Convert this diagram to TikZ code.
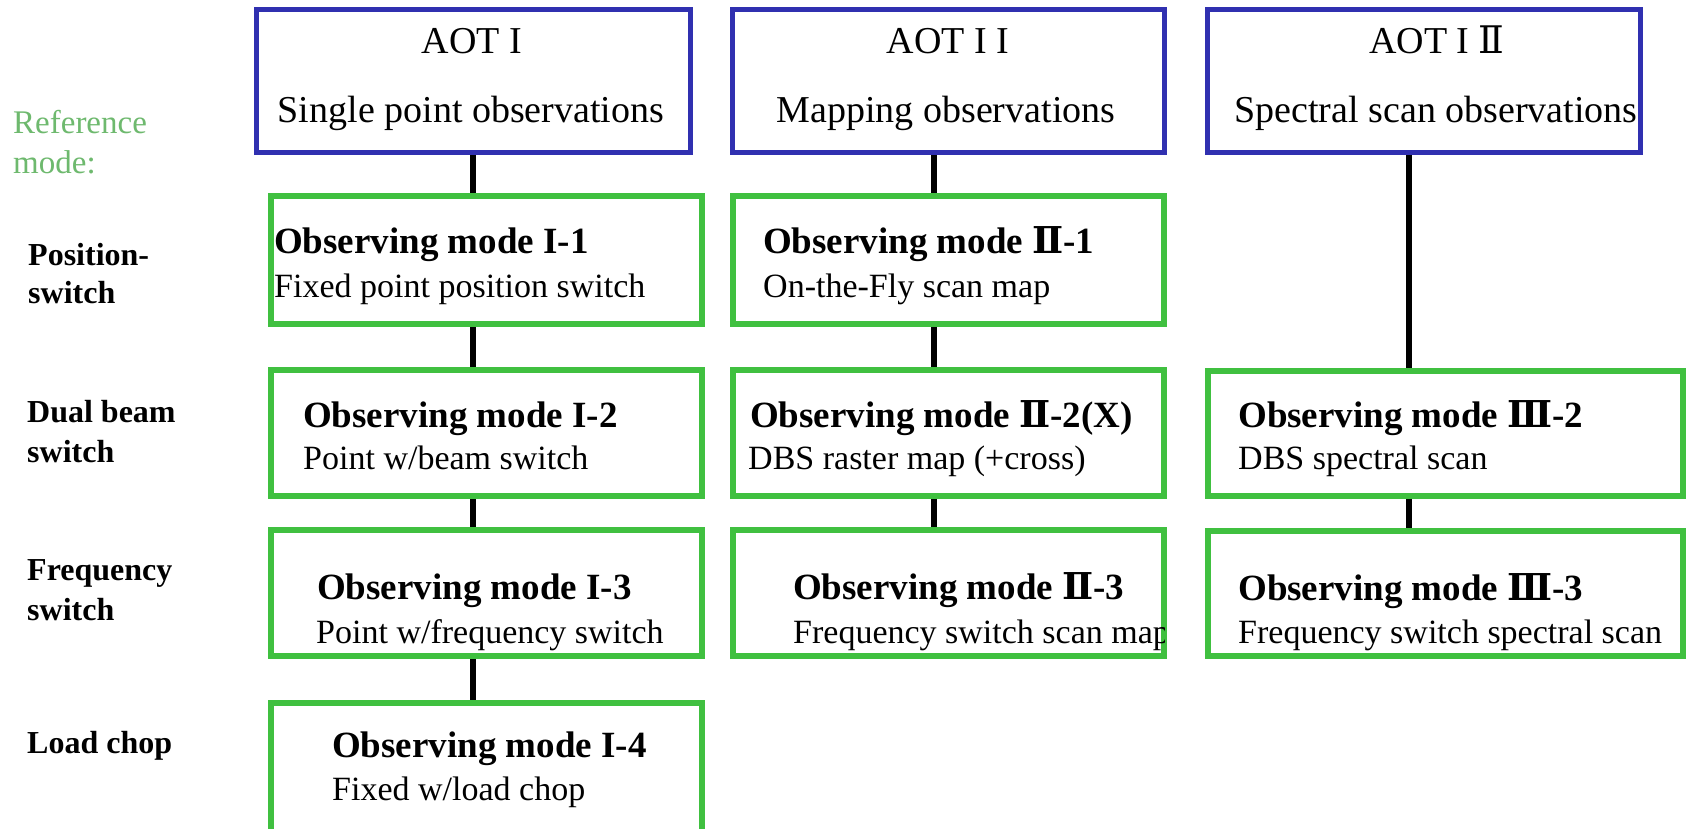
\documentclass[tikz,border=0pt]{standalone}
\usepackage{fontspec}
\setmainfont{Liberation Serif}
\newfontfamily\rn{DejaVu Serif}
\definecolor{cBlue}{RGB}{48,48,176}
\definecolor{cGreen}{RGB}{64,192,64}
\definecolor{cRef}{RGB}{110,185,110}
\tikzset{
  bluebx/.style={draw=cBlue,line width=5pt,inner sep=0pt,minimum height=143pt},
  greenbx/.style={draw=cGreen,line width=6pt,inner sep=0pt},
  conn/.style={draw=black,line width=6.5pt},
  ttl/.style={font=\fontsize{38}{40}\selectfont,inner sep=0pt,anchor=base},
  boldt/.style={font=\fontsize{37}{40}\selectfont\bfseries,inner sep=0pt,anchor=base west},
  subt/.style={font=\fontsize{34}{38}\selectfont,inner sep=0pt,anchor=base west},
  lbl/.style={font=\fontsize{32}{36}\selectfont\bfseries,inner sep=0pt,anchor=base west},
  reflbl/.style={font=\fontsize{33}{36}\selectfont,text=cRef,inner sep=0pt,anchor=base west}
}
\begin{document}
\begin{tikzpicture}[x=1pt,y=-1pt]
\useasboundingbox (0,0) rectangle (1687,828);
\fill[white] (0,0) rectangle (1687,828);
\clip (0,0) rectangle (1687,828);

% connector columns
\coordinate (c1) at (473,0);
\coordinate (c2) at (934,0);
\coordinate (c3) at (1409,0);

% AOT boxes
\node[bluebx,minimum width=434pt] (B1) at (473.5,81) {};
\node[bluebx,minimum width=432pt] (B2) at (948.5,81) {};
\node[bluebx,minimum width=433pt] (B3) at (1424,81) {};

% green boxes
\node[greenbx,minimum width=431pt,minimum height=128pt] (I1) at (486.5,260) {};
\node[greenbx,minimum width=431pt,minimum height=126pt] (I2) at (486.5,433) {};
\node[greenbx,minimum width=431pt,minimum height=126pt] (I3) at (486.5,593) {};
\node[greenbx,minimum width=431pt,minimum height=130pt] (I4) at (486.5,768) {};
\node[greenbx,minimum width=431pt,minimum height=128pt] (II1) at (948.5,260) {};
\node[greenbx,minimum width=431pt,minimum height=126pt] (II2) at (948.5,433) {};
\node[greenbx,minimum width=431pt,minimum height=126pt] (II3) at (948.5,593) {};
\node[greenbx,minimum width=475pt,minimum height=125pt] (III2) at (1445.5,433) {};
\node[greenbx,minimum width=475pt,minimum height=125pt] (III3) at (1445.5,593) {};

% connectors
\draw[conn] (c1 |- B1.south) -- (c1 |- I1.north);
\draw[conn] (c1 |- I1.south) -- (c1 |- I2.north);
\draw[conn] (c1 |- I2.south) -- (c1 |- I3.north);
\draw[conn] (c1 |- I3.south) -- (c1 |- I4.north);
\draw[conn] (c2 |- B2.south) -- (c2 |- II1.north);
\draw[conn] (c2 |- II1.south) -- (c2 |- II2.north);
\draw[conn] (c2 |- II2.south) -- (c2 |- II3.north);
\draw[conn] (c3 |- B3.south) -- (c3 |- III2.north);
\draw[conn] (c3 |- III2.south) -- (c3 |- III3.north);

% titles
\node[ttl] (t1a) at (472,53) {AOT I};
\node[ttl] (t1b) at (471,122) {Single point observations};
\node[ttl] (t2a) at (948,53) {AOT I I};
\node[ttl] (t2b) at (946,122) {Mapping observations};
\node[ttl] (t3a) at (1437,53) {AOT I {\rn Ⅱ}};
\node[ttl] (t3b) at (1436,122) {Spectral scan observations};

% mode texts
\node[boldt] (m11) at (274,253) {Observing mode I-1};
\node[subt]  (s11) at (274,297) {Fixed point position switch};
\node[boldt] (m12) at (303,427) {Observing mode I-2};
\node[subt]  (s12) at (303,469) {Point w/beam switch};
\node[boldt] (m13) at (317,599) {Observing mode I-3};
\node[subt]  (s13) at (316,643) {Point w/frequency switch};
\node[boldt] (m14) at (332,757) {Observing mode I-4};
\node[subt]  (s14) at (332,800) {Fixed w/load chop};

\node[boldt] (m21) at (763,253) {Observing mode {\rn Ⅱ}-1};
\node[subt]  (s21) at (763,297) {On-the-Fly scan map};
\node[boldt] (m22) at (750,427) {Observing mode {\rn Ⅱ}-2(X)};
\node[subt]  (s22) at (748,469) {DBS raster map (+cross)};
\node[boldt] (m23) at (793,599) {Observing mode {\rn Ⅱ}-3};
\begin{scope}
\clip (733,530) rectangle (1164,656);
\node[subt]  (s23) at (793,643) {Frequency switch scan map};
\end{scope}

\node[boldt] (m32) at (1238,427) {Observing mode {\rn Ⅲ}-2};
\node[subt]  (s32) at (1238,469) {DBS spectral scan};
\node[boldt] (m33) at (1238,600) {Observing mode {\rn Ⅲ}-3};
\node[subt]  (s33) at (1238,643) {Frequency switch spectral scan};

% left labels
\node[reflbl] (r1) at (13,133) {Reference};
\node[reflbl] (r2) at (13,173) {mode:};
\node[lbl] (p1) at (28,265) {Position-};
\node[lbl] (p2) at (28,303) {switch};
\node[lbl] (d1) at (27,422) {Dual beam};
\node[lbl] (d2) at (27,462) {switch};
\node[lbl] (f1) at (27,580) {Frequency};
\node[lbl] (f2) at (27,620) {switch};
\node[lbl] (l1) at (27,753) {Load chop};
\end{tikzpicture}
\end{document}
